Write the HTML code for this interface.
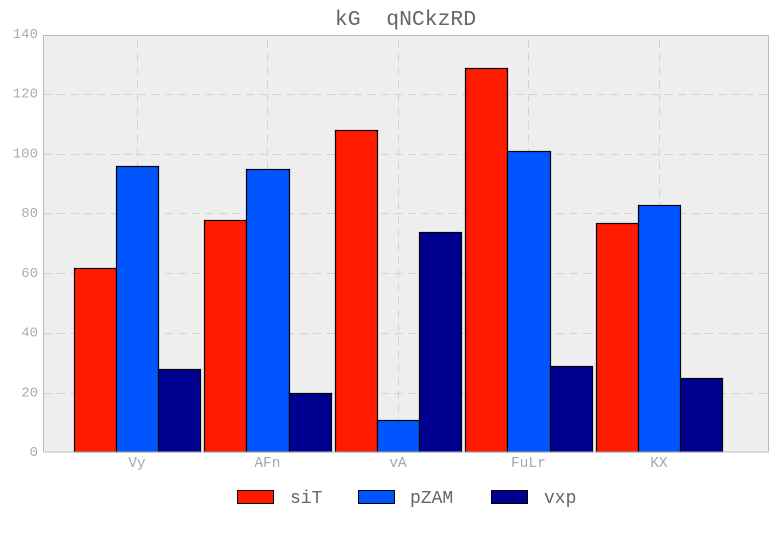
<!DOCTYPE html>
<html>
<head>
<meta charset="utf-8">
<style>
html,body{margin:0;padding:0;background:#fff;width:780px;height:546px;overflow:hidden}
svg{display:block}
text{font-family:"Liberation Mono",monospace}
</style>
</head>
<body>
<svg id="chart" width="780" height="546" viewBox="0 0 780 546" xmlns="http://www.w3.org/2000/svg">
<rect x="0" y="0" width="780" height="546" fill="#fff"/>
<rect id="plot" x="43.5" y="35.5" width="725" height="416.5" fill="#eeeeee"/>
<g id="grid"></g>
<g id="bars"></g>
<rect x="43.5" y="35.5" width="725" height="416.5" fill="none" stroke="#bcbcbc" stroke-width="1"/>
<g id="axes"></g>
<text x="405.5" y="25" text-anchor="middle" font-size="21.4" fill="#666" xml:space="preserve" style="white-space:pre">kG  qNCkzRD</text>
<g id="legend"></g>
</svg>
<script>
const categories = ['Vy', 'AFn', 'vA', 'FuLr', 'KX'];
const seriesNames = ['siT', 'pZAM', 'vxp'];
const seriesSiT = [62, 78, 108, 129, 77];
const seriesPZAM = [96, 95, 11, 101, 83];
const seriesVxp = [28, 20, 74, 29, 25];
const yTicks = [0, 20, 40, 60, 80, 100, 120, 140];

const seriesValues = [seriesSiT, seriesPZAM, seriesVxp];
const colors = ['#ff1a00', '#0055ff', '#000090'];
const NS = 'http://www.w3.org/2000/svg';
const plotL = 43.5, plotR = 768.5, plotB = 452;
const scaleBottom = 452.95, scaleTop = 34.7;
const yMax = 140;
const firstCenter = 137.5, catStep = 130.5, barW = 42.2;

function yScale(v) { return scaleBottom - (v / yMax) * (scaleBottom - scaleTop); }
function xScale(i) { return firstCenter + i * catStep; }
function make(tag, attrs) {
  const el = document.createElementNS(NS, tag);
  for (const k in attrs) el.setAttribute(k, attrs[k]);
  return el;
}

const grid = document.getElementById('grid');
const bars = document.getElementById('bars');
const axes = document.getElementById('axes');
const legend = document.getElementById('legend');

yTicks.forEach(function (t) {
  const y = Math.floor(yScale(t)) + 0.5;
  if (t > 0 && t < yMax) {
    const line = make('line', {x1: plotL, x2: plotR, y1: y, y2: y, stroke: '#d2d2d2', 'stroke-width': 1, 'stroke-dasharray': '8 5.5'});
    
    
    grid.appendChild(line);
  }
  const label = make('text', {x: 38, y: yScale(t) + 3.2, 'text-anchor': 'end', 'font-size': 14, fill: '#a8adb0'});
  label.textContent = t;
  
  
  axes.appendChild(label);
});

categories.forEach(function (c, i) {
  const cx = Math.floor(xScale(i) - 0.3) + 0.5;
  const line = make('line', {x1: cx, x2: cx, y1: 40, y2: plotB, stroke: '#d2d2d2', 'stroke-width': 1, 'stroke-dasharray': '8 5.5'});
  
  
  grid.appendChild(line);
  const label = make('text', {x: xScale(i) - 0.6, y: 467, 'text-anchor': 'middle', 'font-size': 14.5, fill: '#a3a8ab'});
  label.textContent = c;
  
  
  axes.appendChild(label);
});

seriesValues.forEach(function (vals, s) {
  vals.forEach(function (v, i) {
    const x0 = Math.floor(xScale(i) - 1.5 * barW + s * barW) + 0.5;
    const x1 = Math.floor(xScale(i) - 1.5 * barW + (s + 1) * barW) + 0.5;
    const y = Math.round(yScale(v)) + 0.5;
    const r = make('rect', {x: x0, y: y, width: x1 - x0, height: plotB - y, fill: colors[s], stroke: '#000', 'stroke-width': 1.2});
    
    
    bars.appendChild(r);
  });
});

const legendSwatchX = [237.5, 358.5, 491.5];
const legendTextX = [290, 410, 544];
seriesNames.forEach(function (n, s) {
  const sw = make('rect', {x: legendSwatchX[s], y: 490.5, width: 36, height: 13, fill: colors[s], stroke: '#000', 'stroke-width': 1});
  
  
  legend.appendChild(sw);
  const tx = make('text', {x: legendTextX[s], y: 503, 'font-size': 18, fill: '#666'});
  tx.textContent = n;
  
  
  legend.appendChild(tx);
});
</script>
</body>
</html>
